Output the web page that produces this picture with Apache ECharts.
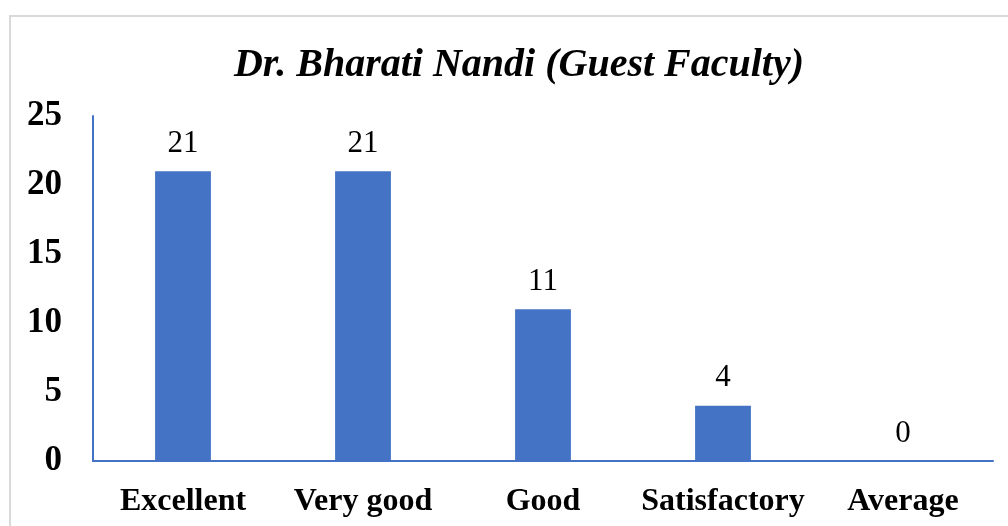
<!DOCTYPE html>
<html>
<head>
    <meta charset="utf-8">
    <title>Dr. Bharati Nandi</title>
    <script src="https://cdn.jsdelivr.net/npm/echarts@6/dist/echarts.min.js"></script>
    <style>
        * { margin: 0; padding: 0 }
        body { background: #fff; }
        #frame {
            position: absolute;
            left: 9px; top: 15px;
            width: 1010px; height: 530px;
            border: 2px solid #d9d9d9;
        }
        #main {
            position: absolute;
            left: 0; top: 0;
            width: 1008px; height: 526px;
        }
    </style>
</head>
<body>
    <div id="frame"></div>
    <div id="main"></div>
    <script type="text/javascript">
        var categories = ['Excellent', 'Very good', 'Good', 'Satisfactory', 'Average'];
        var counts = [21, 21, 11, 4, 0];
        var yTicks = [0, 5, 10, 15, 20, 25];

        var serif = '"Liberation Serif", "DejaVu Serif", serif';
        var myChart = echarts.init(document.getElementById('main'));

        var option = {
            animation: false,
            title: {
                text: 'Dr. Bharati Nandi (Guest Faculty)',
                left: 514,
                textAlign: 'center',
                top: 41,
                textStyle: {
                    fontFamily: serif,
                    fontStyle: 'italic',
                    fontWeight: 'bold',
                    fontSize: 40,
                    color: '#000'
                }
            },
            grid: {
                left: 93,
                right: 15,
                top: 116,
                bottom: 65
            },
            xAxis: {
                type: 'category',
                data: categories,
                axisLine: { lineStyle: { color: '#4472C4', width: 2 } },
                axisTick: { show: false },
                axisLabel: {
                    interval: 0,
                    margin: 25,
                    fontFamily: serif,
                    fontWeight: 'bold',
                    fontSize: 32,
                    color: '#000'
                }
            },
            yAxis: {
                type: 'value',
                min: yTicks[0],
                max: yTicks[yTicks.length - 1],
                interval: 5,
                axisLine: { show: true, lineStyle: { color: '#4472C4', width: 2 } },
                axisTick: { show: false },
                splitLine: { show: false },
                axisLabel: {
                    margin: 31,
                    fontFamily: serif,
                    fontWeight: 'bold',
                    fontSize: 35,
                    color: '#000'
                }
            },
            series: [{
                type: 'bar',
                data: counts,
                barWidth: '31%',
                itemStyle: { color: '#4472C4' },
                label: {
                    show: true,
                    position: 'top',
                    distance: 12,
                    fontFamily: serif,
                    fontSize: 31,
                    color: '#000'
                }
            }]
        };

        myChart.setOption(option);
    </script>
</body>
</html>
